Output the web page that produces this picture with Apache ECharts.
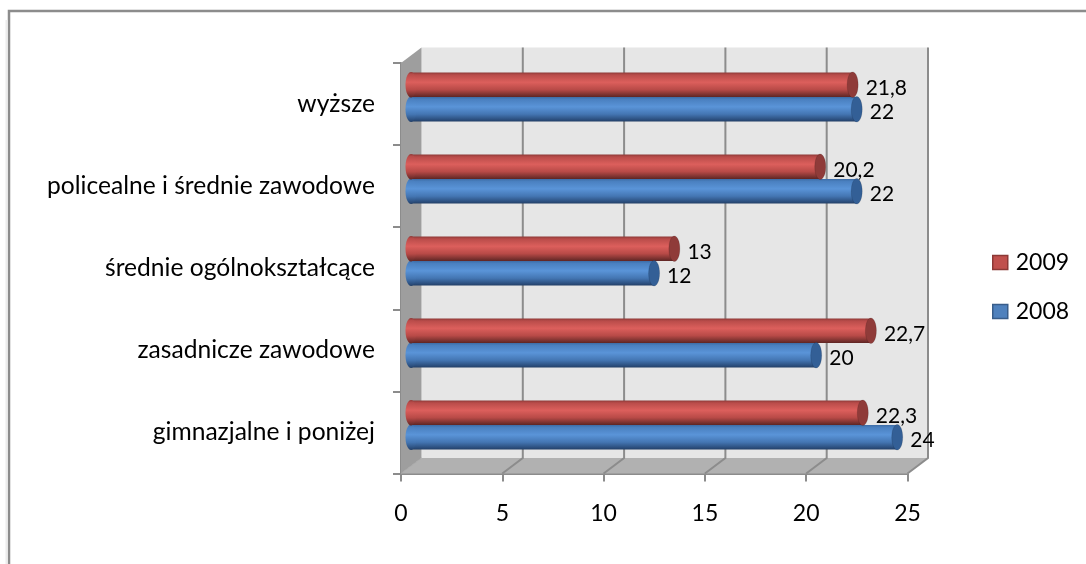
<!DOCTYPE html>
<html><head><meta charset="utf-8">
<style>html,body{margin:0;padding:0;background:#fff}#c{width:1086px;height:564px}</style>
<script src="https://cdn.jsdelivr.net/npm/echarts@6/dist/echarts.min.js"></script>
</head><body><div id="c"></div>
<script>
const categories = ['gimnazjalne i poniżej','zasadnicze zawodowe','średnie ogólnokształcące','policealne i średnie zawodowe','wyższe'];
const values2008 = [24,20,12,22,22];
const values2009 = [22.3,22.7,13,20.2,21.8];
const valueTicks = [0,5,10,15,20,25];
const FONT = 'Lato';
const DX = 20.5, DY = -15.5, BAR = 24.5;

function vgrad(stops){return new echarts.graphic.LinearGradient(0,0,0,1,stops.map(s=>({offset:s[0],color:s[1]})));}
const redGrad = ()=>vgrad([[0,'#8f3a38'],[0.1,'#b94c4a'],[0.4,'#dc5f5c'],[0.7,'#b84a47'],[0.92,'#76302e'],[1,'#5e2523']]);
const blueGrad = ()=>vgrad([[0,'#3d6ca6'],[0.1,'#4a80c0'],[0.4,'#5a94d8'],[0.7,'#4476b3'],[0.92,'#2c4f7e'],[1,'#233f66']]);
const capColor = {r:'#8f3b39', b:'#335f96'};

function plotBox(api){
  const band = api.size([0,1])[1];
  return {
    x0: api.coord([0,0])[0], x1: api.coord([25,0])[0],
    y0: api.coord([0,0])[1]+band/2, y1: api.coord([0,categories.length-1])[1]-band/2
  };
}
function renderWalls(params, api){
  const b = plotBox(api), x0=b.x0, x1=b.x1, y0=b.y0, y1=b.y1;
  const poly=(pts,fill)=>({type:'polygon',shape:{points:pts},style:{fill:fill}});
  return {type:'group',children:[
    poly([[x0+DX,y1+DY],[x1+DX,y1+DY],[x1+DX,y0+DY],[x0+DX,y0+DY]],'#e6e6e6'),
    poly([[x0,y1],[x0+DX,y1+DY],[x0+DX,y0+DY],[x0,y0]],'#9e9e9e'),
    poly([[x0,y0],[x0+DX,y0+DY],[x1+DX,y0+DY],[x1,y0]],'#b1b1b1')
  ]};
}
function renderGridline(params, api){
  const v = api.value(0);
  const b = plotBox(api);
  const x = api.coord([v,0])[0];
  if (v===0) return {type:'polyline',shape:{points:[[x,b.y0],[x+DX,b.y0+DY]]},style:{stroke:'#a8a8a8',lineWidth:1,fill:'none'}};
  return {type:'polyline',shape:{points:[[x+DX,b.y1+DY],[x+DX,b.y0+DY],[x,b.y0]]},style:{stroke:'#8c8c8c',lineWidth:2,fill:'none'}};
}
function capRenderer(dir, grad, cap){
  return function(params, api){
    const p = api.coord([api.value(0),api.value(1)]);
    const p0 = api.coord([0,api.value(1)]);
    const cy = p[1] + dir*BAR/2;
    const ry = BAR/2+0.5, rx = 5.5;
    return {type:'group',children:[
      {type:'ellipse',shape:{cx:p0[0],cy:cy,rx:rx,ry:ry},style:{fill:grad()}},
      {type:'ellipse',shape:{cx:p[0],cy:cy,rx:rx,ry:ry},style:{fill:cap,stroke:'rgba(0,0,0,0.12)',lineWidth:1}}
    ]};
  };
}
function barLabel(){
  return {show:true,position:'right',distance:0,offset:[13,3],color:'#000',fontFamily:FONT,fontSize:21,
    formatter:p=>String(p.value).replace('.',',')};
}
const capData = arr=>arr.map((v,i)=>[v,i]);

const chart = echarts.init(document.getElementById('c'),null,{renderer:'canvas'});
chart.setOption({
  animation:false,
  backgroundColor:'#fff',
  graphic:[
    {type:'polyline',silent:true,shape:{points:[[9,564],[9,11],[1086,11]]},style:{stroke:'#8c8c8c',lineWidth:2.5,fill:'none'}},
    {type:'line',silent:true,shape:{x1:6.5,y1:20,x2:6.5,y2:564},style:{stroke:'#ececec',lineWidth:2}}
  ],
  legend:{orient:'vertical',left:987,top:246,itemWidth:15,itemHeight:14,itemGap:26,
    icon:'rect',
    textStyle:{fontFamily:FONT,fontSize:23,color:'#000',padding:[0,0,0,3]},
    data:[
      {name:'2009',itemStyle:{color:'#c0504d',borderColor:'#8c3836',borderWidth:1.5}},
      {name:'2008',itemStyle:{color:'#4f81bd',borderColor:'#385d8a',borderWidth:1.5}}
    ]},
  grid:[
    {left:401,top:63,width:506.5,height:410.5},
    {left:411,top:56,width:506.5,height:410}
  ],
  xAxis:[
    {type:'value',gridIndex:0,min:0,max:25,interval:5,
     axisLine:{show:true,lineStyle:{color:'#8c8c8c',width:2}},
     axisTick:{show:true,length:8,lineStyle:{color:'#8c8c8c',width:2}},
     axisLabel:{margin:29,fontFamily:FONT,fontSize:23,color:'#000'},
     splitLine:{show:false}},
    {type:'value',gridIndex:1,min:0,max:25,interval:5,show:false,splitLine:{show:false}}
  ],
  yAxis:[
    {type:'category',gridIndex:0,data:categories,
     axisLine:{show:true,lineStyle:{color:'#8c8c8c',width:2}},
     axisTick:{show:true,length:8,lineStyle:{color:'#8c8c8c',width:2}},
     axisLabel:{margin:26,fontFamily:FONT,fontSize:24.6,color:'#000'}},
    {type:'category',gridIndex:1,data:categories,show:false}
  ],
  series:[
    {type:'custom',xAxisIndex:0,yAxisIndex:0,z:1,silent:true,data:[[0]],renderItem:renderWalls,clip:false},
    {type:'custom',xAxisIndex:0,yAxisIndex:0,z:2,silent:true,data:valueTicks.map(v=>[v]),renderItem:renderGridline,clip:false},
    {type:'bar',name:'2009',xAxisIndex:1,yAxisIndex:1,z:3,data:values2009,barWidth:BAR,barGap:'0%',
     itemStyle:{color:redGrad()},label:barLabel()},
    {type:'bar',name:'2008',xAxisIndex:1,yAxisIndex:1,z:3,data:values2008,barWidth:BAR,barGap:'0%',
     itemStyle:{color:blueGrad()},label:barLabel()},
    {type:'custom',xAxisIndex:1,yAxisIndex:1,z:4,silent:true,clip:false,data:capData(values2008),
     renderItem:capRenderer(1,blueGrad,capColor.b),encode:{x:0,y:1}},
    {type:'custom',xAxisIndex:1,yAxisIndex:1,z:4,silent:true,clip:false,data:capData(values2009),
     renderItem:capRenderer(-1,redGrad,capColor.r),encode:{x:0,y:1}}
  ]
});
</script></body></html>
